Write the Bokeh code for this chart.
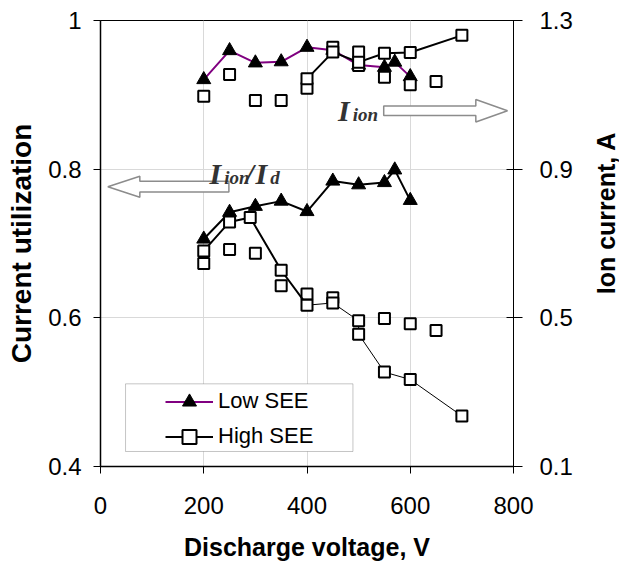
import math
from bokeh.plotting import figure
from bokeh.layouts import row
from bokeh.models import (Range1d, LinearAxis, FixedTicker, CustomJSTickFormatter,
                          Legend, LegendItem, Label, BoxAnnotation)
from bokeh.embed import file_html
from bokeh.resources import INLINE

# ---------------- data ----------------
# Ion current (right axis, A)
low_ion_x = [200, 250, 300, 350, 400, 450, 500, 550, 570, 600]
low_ion_y = [1.141, 1.219, 1.186, 1.189, 1.228, 1.220, 1.180, 1.174, 1.188, 1.149]
high_ion_x = [400, 450, 500, 550, 600, 700]
high_ion_y = [1.143, 1.215, 1.188, 1.212, 1.214, 1.260]
extra_ion_x = [200, 250, 300, 350, 400, 450, 500, 500, 550, 600, 650]
extra_ion_y = [1.096, 1.155, 1.085, 1.085, 1.118, 1.228, 1.215, 1.179, 1.147, 1.127, 1.136]

# Current utilization (left axis)
low_util_x = [200, 250, 300, 350, 400, 450, 500, 550, 570, 600]
low_util_y = [0.706, 0.742, 0.750, 0.757, 0.743, 0.784, 0.779, 0.782, 0.799, 0.758]
high_util_x = [200, 250, 290, 350, 400, 450, 500, 500, 550, 600, 700]
high_util_y = [0.690, 0.729, 0.735, 0.664, 0.617, 0.620, 0.596, 0.578, 0.527, 0.517, 0.468]
extra_util_x = [200, 250, 300, 350, 400, 450, 550, 600, 650]
extra_util_y = [0.673, 0.692, 0.687, 0.643, 0.632, 0.627, 0.599, 0.592, 0.583]

x_ticks = [0, 200, 400, 600, 800]
left_ticks = [0.4, 0.6, 0.8, 1.0]
right_ticks = [0.1, 0.5, 0.9, 1.3]

PURPLE = "#800080"
FONT = "Liberation Sans"
SERIF = "Liberation Serif"
ANN = "#333333"
ARROW = "#8c8c8c"

p = figure(width=589, height=570, x_range=Range1d(0, 800), y_range=Range1d(0.4, 1.0),
           output_backend="svg", toolbar_location=None,
           min_border_left=100, min_border_right=76, min_border_top=20, min_border_bottom=104)
p.extra_y_ranges = {"ion": Range1d(0.1, 1.3)}
p.outline_line_color = "black"
p.outline_line_width = 1
p.background_fill_color = "white"
p.border_fill_color = "white"

ax_b = p.below[0]
ax_l = p.left[0]
ax_r = LinearAxis(y_range_name="ion")
p.add_layout(ax_r, "right")

ax_b.ticker = FixedTicker(ticks=x_ticks)
ax_l.ticker = FixedTicker(ticks=left_ticks)
ax_l.formatter = CustomJSTickFormatter(code="return tick == 1 ? '1' : tick.toFixed(1);")
ax_r.ticker = FixedTicker(ticks=right_ticks)
ax_r.formatter = CustomJSTickFormatter(code="return tick.toFixed(1);")

for ax in (ax_b, ax_l, ax_r):
    ax.major_label_text_font = FONT
    ax.major_label_text_font_size = "24px"
    ax.major_label_text_color = "black"
    ax.axis_label_text_font = FONT
    ax.axis_label_text_font_style = "bold"
    ax.axis_label_text_font_size = "25px"
    ax.axis_label_text_color = "black"
    ax.minor_tick_line_color = None
    ax.minor_tick_in = 0
    ax.minor_tick_out = 0
    ax.major_tick_line_color = "black"
    ax.axis_line_color = "black"

ax_b.axis_label = "Discharge voltage, V"
ax_b.major_tick_in = 0
ax_b.major_tick_out = 7
ax_b.major_label_standoff = 23
ax_b.axis_label_standoff = 16
ax_b.axis_line_width = 1.5

ax_l.axis_label = "Current utilization"
ax_l.axis_label_text_font_size = "28px"
ax_l.major_tick_in = 0
ax_l.major_tick_out = 7
ax_l.major_label_standoff = 12
ax_l.axis_label_standoff = 8
ax_l.axis_line_width = 1.5

ax_r.major_tick_in = 7
ax_r.major_tick_out = 9
ax_r.major_label_standoff = 17
ax_r.axis_line_width = 1

p.xgrid.grid_line_color = "#d9d9d9"
p.ygrid.grid_line_color = "#d9d9d9"
p.xgrid.grid_line_width = 1
p.ygrid.grid_line_width = 1

# ---------------- series ----------------
TRI = 14
SQ = 11

# ion current, low SEE (purple line)
r_low_line = p.line(low_ion_x, low_ion_y, y_range_name="ion", line_color=PURPLE, line_width=2)
r_low_pts = p.scatter(low_ion_x, low_ion_y, y_range_name="ion", marker="triangle", size=TRI,
                      fill_color="black", line_color="black")
# utilization, low SEE
p.line(low_util_x, low_util_y, line_color="black", line_width=2)
p.scatter(low_util_x, low_util_y, marker="triangle", size=TRI, fill_color="black", line_color="black")

# extra unconnected squares
p.scatter(extra_ion_x, extra_ion_y, y_range_name="ion", marker="square", size=SQ,
          fill_color="white", line_color="black", line_width=2)
p.scatter(extra_util_x, extra_util_y, marker="square", size=SQ,
          fill_color="white", line_color="black", line_width=2)

# ion current, high SEE
r_high_line = p.line(high_ion_x, high_ion_y, y_range_name="ion", line_color="black", line_width=2)
r_high_pts = p.scatter(high_ion_x, high_ion_y, y_range_name="ion", marker="square", size=SQ,
                       fill_color="white", line_color="black", line_width=2)
# utilization, high SEE (thick first part, thin later)
p.line(high_util_x[:5], high_util_y[:5], line_color="black", line_width=2)
p.line(high_util_x[4:], high_util_y[4:], line_color="black", line_width=1)
p.scatter(high_util_x, high_util_y, marker="square", size=SQ,
          fill_color="white", line_color="black", line_width=2)

# ---------------- arrows ----------------
p.patch([548.6, 727, 727, 788.4, 727, 727, 548.6],
        [0.8850, 0.8850, 0.8937, 0.8786, 0.8635, 0.8722, 0.8722],
        fill_color="white", line_color=ARROW, line_width=1.5)
p.patch([14.2, 76.2, 76.2, 248.7, 248.7, 76.2, 76.2],
        [0.7764, 0.7905, 0.7836, 0.7836, 0.7692, 0.7692, 0.7623],
        fill_color="white", line_color=ARROW, line_width=1.5)

def lab(x, y, t, size):
    p.add_layout(Label(x=x, y=y, text=t, text_font=SERIF, text_font_style="bold italic",
                       text_font_size=size, text_color=ANN, text_baseline="alphabetic"))

lab(460.0, 0.8789, "I", "30px")
lab(488.5, 0.8735, "ion", "19px")
lab(211.3, 0.7938, "I", "30px")
lab(239.5, 0.7892, "ion", "19px")
lab(281.0, 0.7938, "/", "30px")
lab(300.0, 0.7938, "I", "30px")
lab(329.0, 0.7892, "d", "19px")

# ---------------- legend ----------------
p.add_layout(BoxAnnotation(left=48.5, right=489, bottom=0.4202, top=0.5112,
                           fill_color="white", fill_alpha=1.0,
                           line_color="#404040", line_width=1))
legend = Legend(items=[LegendItem(label="Low SEE", renderers=[r_low_line, r_low_pts]),
                       LegendItem(label="High SEE", renderers=[r_high_line, r_high_pts])],
                location=(65, 12.5), padding=0, margin=0, spacing=0,
                glyph_width=48, glyph_height=35, label_height=35, label_standoff=5,
                label_text_font=FONT, label_text_font_size="22px", label_text_color="black",
                border_line_color=None, background_fill_alpha=0)
p.add_layout(legend)

# ---------------- right-axis title (reads bottom-to-top) ----------------
t = figure(width=30, height=570, x_range=Range1d(0, 30), y_range=Range1d(0, 570),
           output_backend="svg", toolbar_location=None, title=None,
           x_axis_location=None, y_axis_location=None, min_border=0)
t.outline_line_color = None
t.xgrid.visible = False
t.ygrid.visible = False
t.border_fill_color = "white"
t.background_fill_color = "white"
t.add_layout(Label(x=16, y=324, text="Ion current, A",
                   angle=math.pi / 2, text_font=FONT, text_font_style="bold",
                   text_font_size="25px", text_color="black",
                   text_align="center", text_baseline="middle"))

layout = row(p, t)
open("out.html", "w").write(file_html(layout, INLINE))
